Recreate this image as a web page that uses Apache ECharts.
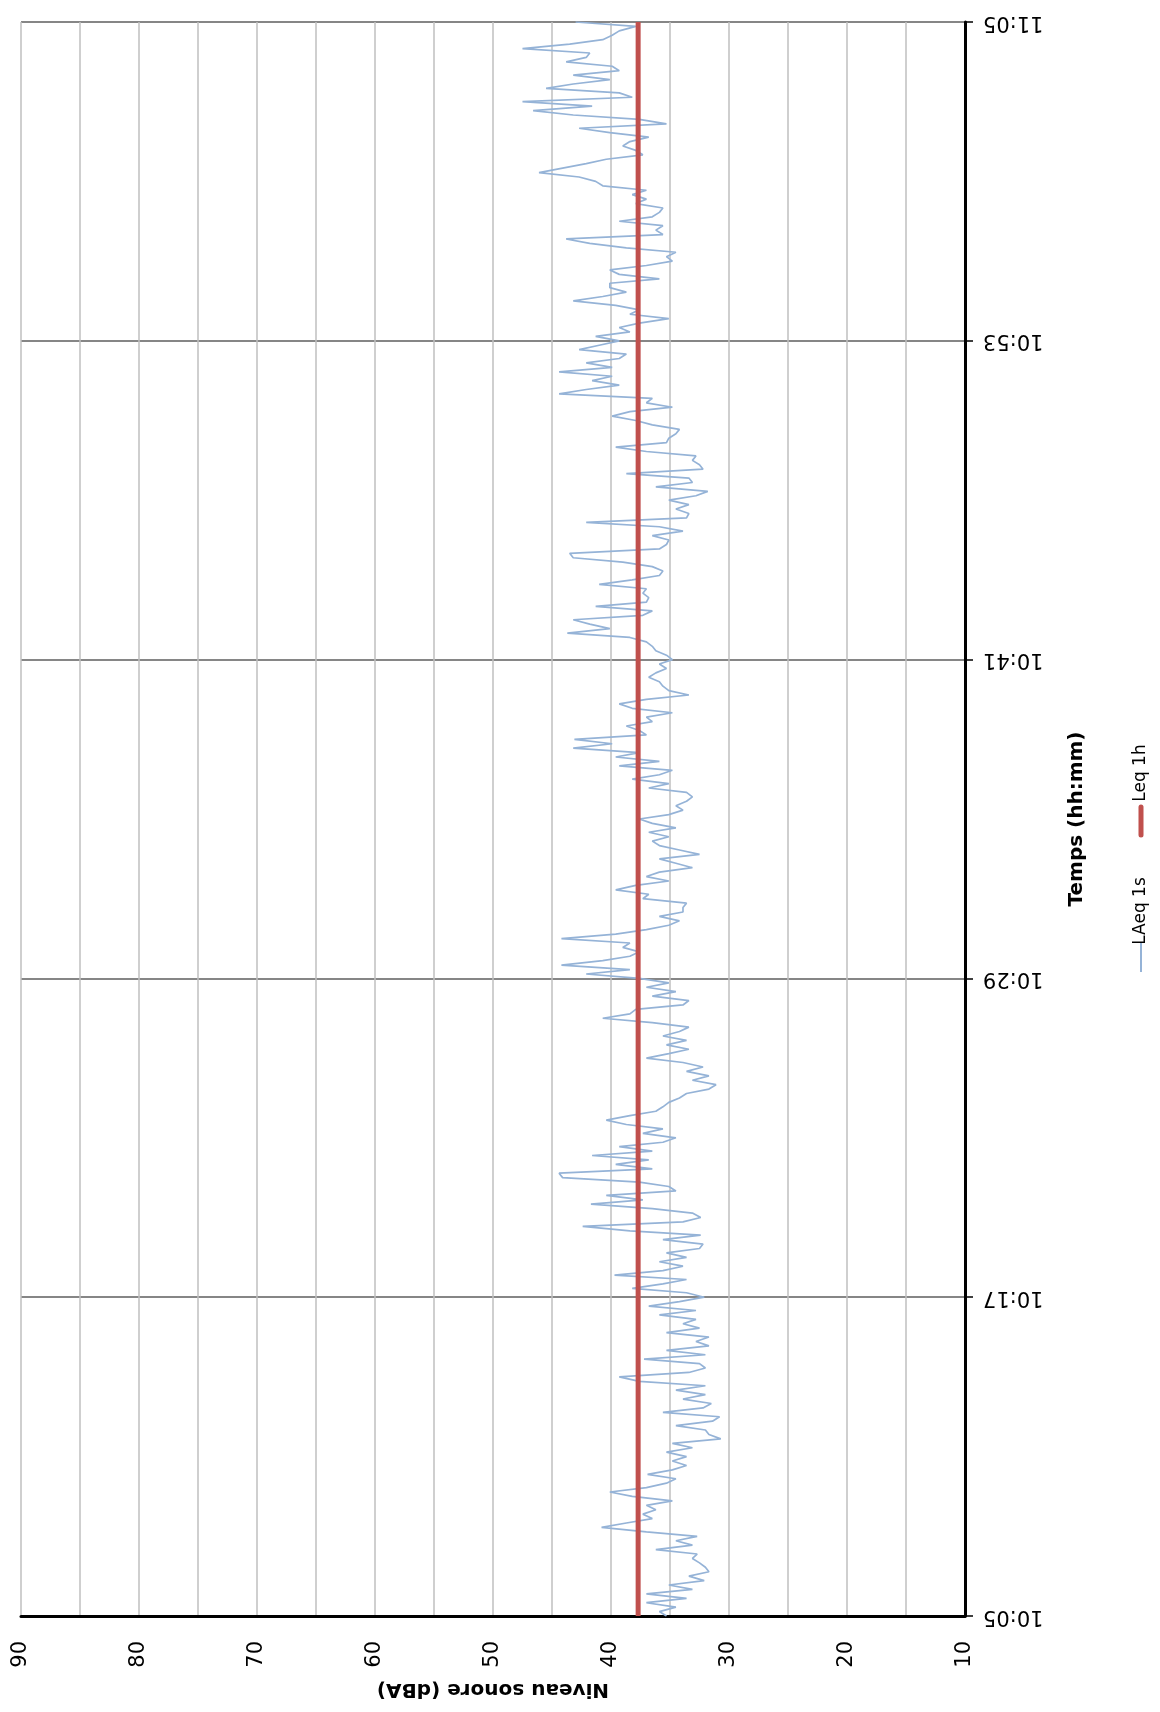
<!DOCTYPE html>
<html>
<head>
<meta charset="utf-8">
<script src="https://cdn.jsdelivr.net/npm/echarts@6/dist/echarts.min.js"></script>
<style>
  html, body { margin: 0; padding: 0; background: #fff; }
  #chart { width: 1160px; height: 1712px; }
</style>
</head>
<body>
<div id="chart"></div>
<script>
// LAeq 1s, one reading every 10 s from 10:05 to 11:05 (dBA)
const stepSec = 10
const laeq1s = [
  35.3, 35.9, 34.5, 37.0, 33.6, 37.0, 33.1, 35.1, 32.1, 33.4,
  31.7, 32.0, 32.5, 33.1, 32.7, 36.2, 33.1, 34.5, 32.7, 37.0,
  40.8, 38.7, 36.5, 37.3, 36.2, 37.0, 34.8, 38.2, 40.1, 37.0,
  35.3, 34.5, 36.9, 34.8, 33.6, 34.8, 33.6, 35.3, 33.1, 34.8,
  30.7, 31.7, 32.0, 34.5, 31.4, 30.8, 35.6, 32.2, 31.5, 33.9,
  32.0, 34.5, 32.0, 37.6, 39.3, 33.4, 32.0,
  32.5, 37.2, 32.0, 35.3, 31.7, 32.8, 31.7, 35.3, 32.5, 33.9,
  32.8, 35.9, 32.8, 36.8, 34.2, 32.1, 33.6, 38.2, 35.6, 33.6,
  39.7, 35.6, 33.9, 35.9, 33.6, 35.3, 32.5, 32.2, 35.6, 32.4,
  38.4, 42.4, 33.9, 32.4, 33.1, 36.5, 41.7, 37.3, 40.4, 34.5,
  35.1, 37.6, 44.1, 44.4, 36.5, 39.6, 36.8, 41.6, 36.5, 39.3,
  35.6, 34.5, 37.3, 35.6, 38.7, 40.4, 38.4, 36.2, 35.6, 35.1,
  34.2,
  33.6, 31.7, 31.1, 33.1, 31.7, 33.6, 32.2, 33.9, 37.0, 35.1,
  33.4, 35.3, 33.6, 35.6, 34.2, 33.4, 36.5, 40.7, 38.4, 37.9,
  33.9, 33.4, 36.5, 34.5, 37.0, 35.1, 37.6, 42.1, 38.4, 44.2,
  40.7, 38.4, 37.6, 39.0, 38.4, 44.2, 39.6, 37.0, 35.1, 34.2,
  35.9, 33.9, 33.9, 33.6, 37.3, 36.8, 39.6, 37.9, 35.1, 37.0,
  35.9, 33.1, 34.5, 35.9, 32.5, 34.2, 35.9, 36.5, 35.1, 36.8,
  34.5,
  36.5, 37.6, 35.1, 33.9, 34.5, 33.6, 33.1, 33.6, 36.8, 35.1,
  38.2, 35.9, 34.8, 39.3, 35.9, 39.6, 37.6, 43.2, 39.9, 43.1,
  37.0, 37.6, 38.7, 36.5, 37.0, 34.8, 38.2, 39.3, 37.0, 33.4,
  35.1, 35.6, 35.9, 36.8, 36.2, 35.3, 35.9, 34.8, 35.3, 36.2,
  36.5, 37.0, 38.4, 43.7, 40.1, 41.8, 43.2, 37.3, 36.5, 41.3,
  37.0, 36.8, 37.3, 37.0, 41.0, 38.2, 35.9, 35.6, 36.5, 39.0,
  43.2,
  43.5, 35.9, 35.3, 35.1, 36.5, 33.9, 35.9, 42.1, 33.6, 33.4,
  34.5, 33.4, 35.1, 32.8, 31.8, 36.2, 33.1, 33.4, 38.7, 32.2,
  32.5, 33.1, 32.8, 37.0, 39.6, 35.3, 35.1, 34.5, 34.2, 36.5,
  37.9, 39.9, 38.4, 34.8, 37.0, 36.5, 44.4, 42.1, 39.3, 41.6,
  39.9, 44.4, 39.9, 42.1, 39.3, 38.7, 42.7, 41.0, 39.3, 41.3,
  38.4, 39.3, 37.6, 35.1, 38.4, 37.6, 39.6, 43.2, 40.7, 38.7,
  40.1,
  40.1, 35.9, 39.3, 40.1, 37.0, 34.8, 35.3, 34.5, 38.7, 41.8,
  43.8, 35.6, 36.2, 35.6, 39.3, 36.5, 35.9, 35.6, 37.9, 37.0,
  38.2, 37.0, 40.7, 41.3, 42.7, 46.1, 44.1, 42.1, 40.4, 37.3,
  37.9, 39.0, 38.4, 36.8, 40.1, 42.7, 35.3, 37.6, 43.2, 46.6,
  41.6, 47.5, 38.2, 39.3, 45.5, 43.2, 40.1, 43.2, 39.3, 39.9,
  43.8, 42.1, 41.8, 47.5, 43.5, 40.7, 39.9, 39.3, 37.9, 43.0
]
const leq1h = 37.7
const timeLabels = ['10:05', '10:17', '10:29', '10:41', '10:53', '11:05']
const tickSec = 720

const chart = echarts.init(document.getElementById('chart'))
const font = 'DejaVu Sans'
const totalSec = (laeq1s.length - 1) * stepSec

chart.setOption({
  animation: false,
  grid: { left: 21, right: 195, top: 22, bottom: 96 },
  xAxis: {
    type: 'value',
    min: 10,
    max: 90,
    interval: 5,
    inverse: true,
    position: 'bottom',
    axisLine: { show: true, onZero: false, lineStyle: { color: '#000', width: 3 } },
    axisTick: { show: false },
    axisLabel: {
      rotate: 90,
      margin: 25,
      fontFamily: font,
      fontSize: 21,
      color: '#000',
      formatter: (v) => (v % 10 === 0 ? String(v) : '')
    },
    splitLine: { show: true, lineStyle: { color: '#bfbfbf', width: 1.5 } },
    name: 'Niveau sonore (dBA)',
    nameLocation: 'middle',
    nameGap: 63,
    nameRotate: 180,
    nameTextStyle: { fontFamily: font, fontWeight: 'bold', fontSize: 20, color: '#000' }
  },
  yAxis: {
    type: 'value',
    min: 0,
    max: totalSec,
    interval: tickSec,
    position: 'right',
    axisLine: { show: true, onZero: false, lineStyle: { color: '#000', width: 3 } },
    axisTick: { show: true, length: 8, lineStyle: { color: '#000', width: 1.5 } },
    axisLabel: {
      rotate: 180,
      margin: 18,
      fontFamily: font,
      fontSize: 21,
      color: '#000',
      formatter: (v) => timeLabels[Math.round(v / tickSec)] || ''
    },
    splitLine: { show: true, lineStyle: { color: '#868686', width: 2 } },
    name: 'Temps (hh:mm)',
    nameLocation: 'middle',
    nameGap: 102,
    nameRotate: 90,
    nameTextStyle: { fontFamily: font, fontWeight: 'bold', fontSize: 20, color: '#000' }
  },
  series: [
    {
      name: 'LAeq 1s',
      type: 'line',
      showSymbol: false,
      data: laeq1s.map((v, i) => [v, i * stepSec]),
      lineStyle: { color: '#95b3d7', width: 1.7 },
      z: 2
    },
    {
      name: 'Leq 1h',
      type: 'line',
      showSymbol: false,
      data: [[leq1h, 0], [leq1h, totalSec]],
      lineStyle: { color: '#c0504d', width: 5 },
      z: 3
    }
  ],
  // legend drawn by hand so the entries can be turned like the rest of the chart
  graphic: [
    { type: 'line', shape: { x1: 1141, y1: 942, x2: 1141, y2: 972 }, style: { stroke: '#95b3d7', lineWidth: 2 } },
    { type: 'text', x: 1141, y: 911, rotation: Math.PI / 2,
      style: { text: 'LAeq 1s', fontFamily: font, fontSize: 17, fill: '#000', textAlign: 'center', textVerticalAlign: 'middle' } },
    { type: 'line', shape: { x1: 1141, y1: 807, x2: 1141, y2: 835 }, style: { stroke: '#c0504d', lineWidth: 5, lineCap: 'round' } },
    { type: 'text', x: 1141, y: 773, rotation: Math.PI / 2,
      style: { text: 'Leq 1h', fontFamily: font, fontSize: 17, fill: '#000', textAlign: 'center', textVerticalAlign: 'middle' } }
  ]
})

window.addEventListener('resize', () => chart.resize())
</script>
</body>
</html>
